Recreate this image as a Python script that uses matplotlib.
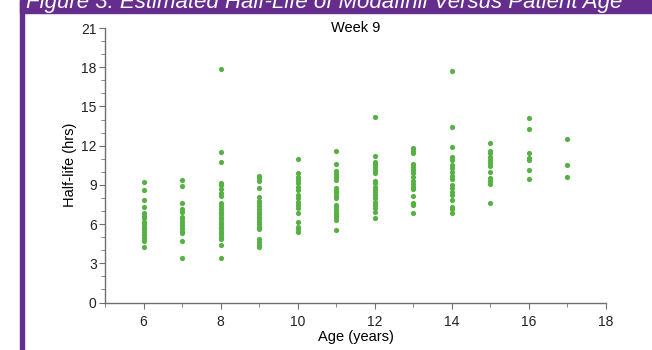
import matplotlib.pyplot as plt
from matplotlib.patches import Rectangle
from matplotlib.ticker import MultipleLocator

plt.rcParams["font.family"] = ["Liberation Sans", "DejaVu Sans"]

# half-life (hrs) per patient age (years), week 9
ages = [6, 7, 8, 9, 10, 11, 12, 13, 14, 15, 16, 17]
half_life = {
    6: [9.2, 8.58, 7.82, 7.28, 6.82, 6.62, 6.44, 6.18, 6.0, 5.8, 5.6, 5.42,
        5.16, 4.91, 4.71, 4.22],
    7: [9.35, 8.91, 7.59, 7.13, 6.95, 6.52, 6.37, 6.18, 5.93, 5.67, 5.49,
        5.34, 4.71, 3.43],
    8: [17.84, 11.52, 10.77, 9.17, 8.97, 8.71, 8.4, 8.15, 7.59, 7.38, 7.18,
        6.95, 6.77, 6.56, 6.37, 6.16, 5.99, 5.8, 5.6, 5.42, 5.24, 5.04, 4.84,
        4.4, 3.43],
    9: [9.68, 9.5, 9.32, 8.78, 8.05, 7.79, 7.59, 7.38, 7.18, 6.95, 6.77, 6.56,
        6.37, 6.18, 5.98, 5.8, 5.6, 4.84, 4.63, 4.42, 4.27],
    10: [10.96, 9.88, 9.62, 9.37, 9.12, 8.86, 8.61, 8.22, 7.97, 7.71, 7.46,
         7.21, 6.87, 6.18, 5.8, 5.6, 5.42],
    11: [11.59, 10.57, 10.06, 9.83, 9.62, 9.37, 8.74, 8.55, 8.35, 8.15, 7.97,
         7.46, 7.28, 7.08, 6.87, 6.69, 6.52, 6.31, 5.55],
    12: [14.22, 11.21, 10.77, 10.57, 10.39, 10.14, 9.88, 9.32, 9.12, 8.86,
         8.66, 8.48, 8.22, 7.97, 7.71, 7.46, 7.21, 6.95, 6.49],
    13: [11.8, 11.61, 11.42, 10.6, 10.34, 10.14, 9.88, 9.58, 9.32, 9.07, 8.86,
         8.66, 8.15, 7.64, 7.46, 6.87],
    14: [17.7, 13.4, 11.92, 11.16, 10.9, 10.52, 10.27, 10.01, 9.68, 9.43,
         8.99, 8.74, 8.48, 8.22, 7.84, 7.33, 7.13, 6.87],
    15: [12.18, 11.61, 11.42, 11.16, 10.9, 10.7, 10.44, 10.01, 9.5, 9.32,
         9.07, 7.59],
    16: [14.09, 13.27, 11.44, 11.06, 10.9, 10.16, 9.43],
    17: [12.51, 10.5, 9.6],
}

PURPLE = "#652d8e"
GREEN = "#57b044"
AXIS_GRAY = "#707070"

fig = plt.figure(figsize=(6.52, 3.5), dpi=100)

# purple frame: top band and thin left bar
fig.patches.append(Rectangle((20 / 652, 1 - 13 / 350), 1, 13 / 350,
                             transform=fig.transFigure, color=PURPLE, zorder=0))
fig.patches.append(Rectangle((20 / 652, 0), 4 / 652, 1,
                             transform=fig.transFigure, color=PURPLE, zorder=0))
# header is cropped at the top edge in the original figure
fig.text(26 / 652, 1 - 8 / 350,
         "Figure 3. Estimated Half-Life of Modafinil Versus Patient Age",
         color="white", fontsize=16, style="italic", va="baseline", ha="left")

ax = fig.add_axes([105 / 652, 47.5 / 350, 501 / 652, 274.5 / 350])

xs, ys = [], []
for a in ages:
    xs += [a] * len(half_life[a])
    ys += half_life[a]
ax.scatter(xs, ys, s=14, color=GREEN, linewidths=0, zorder=3, clip_on=False)

ax.set_xlim(5, 18)
ax.set_ylim(0, 21)
ax.xaxis.set_major_locator(MultipleLocator(2))
ax.xaxis.set_minor_locator(MultipleLocator(1))
ax.yaxis.set_major_locator(MultipleLocator(3))
ax.yaxis.set_minor_locator(MultipleLocator(1))
ax.set_xticks(range(6, 19, 2))

for side in ["top", "right"]:
    ax.spines[side].set_visible(False)
for side in ["left", "bottom"]:
    ax.spines[side].set_color(AXIS_GRAY)
    ax.spines[side].set_linewidth(1.0)

ax.tick_params(which="both", color=AXIS_GRAY, labelsize=10,
               labelcolor="#222222")
ax.tick_params(axis="y", pad=2)
ax.tick_params(axis="x", pad=5)
ax.tick_params(which="major", length=4)
ax.tick_params(which="minor", length=3)

ax.set_xlabel("Age (years)", fontsize=10.5, labelpad=1)
ax.set_ylabel("Half-life (hrs)", fontsize=10.5, labelpad=3)
ax.text(0.5, 1.0, "Week 9", transform=ax.transAxes, fontsize=10.5,
        ha="center", va="center")

fig.savefig("out.png", dpi=100)
